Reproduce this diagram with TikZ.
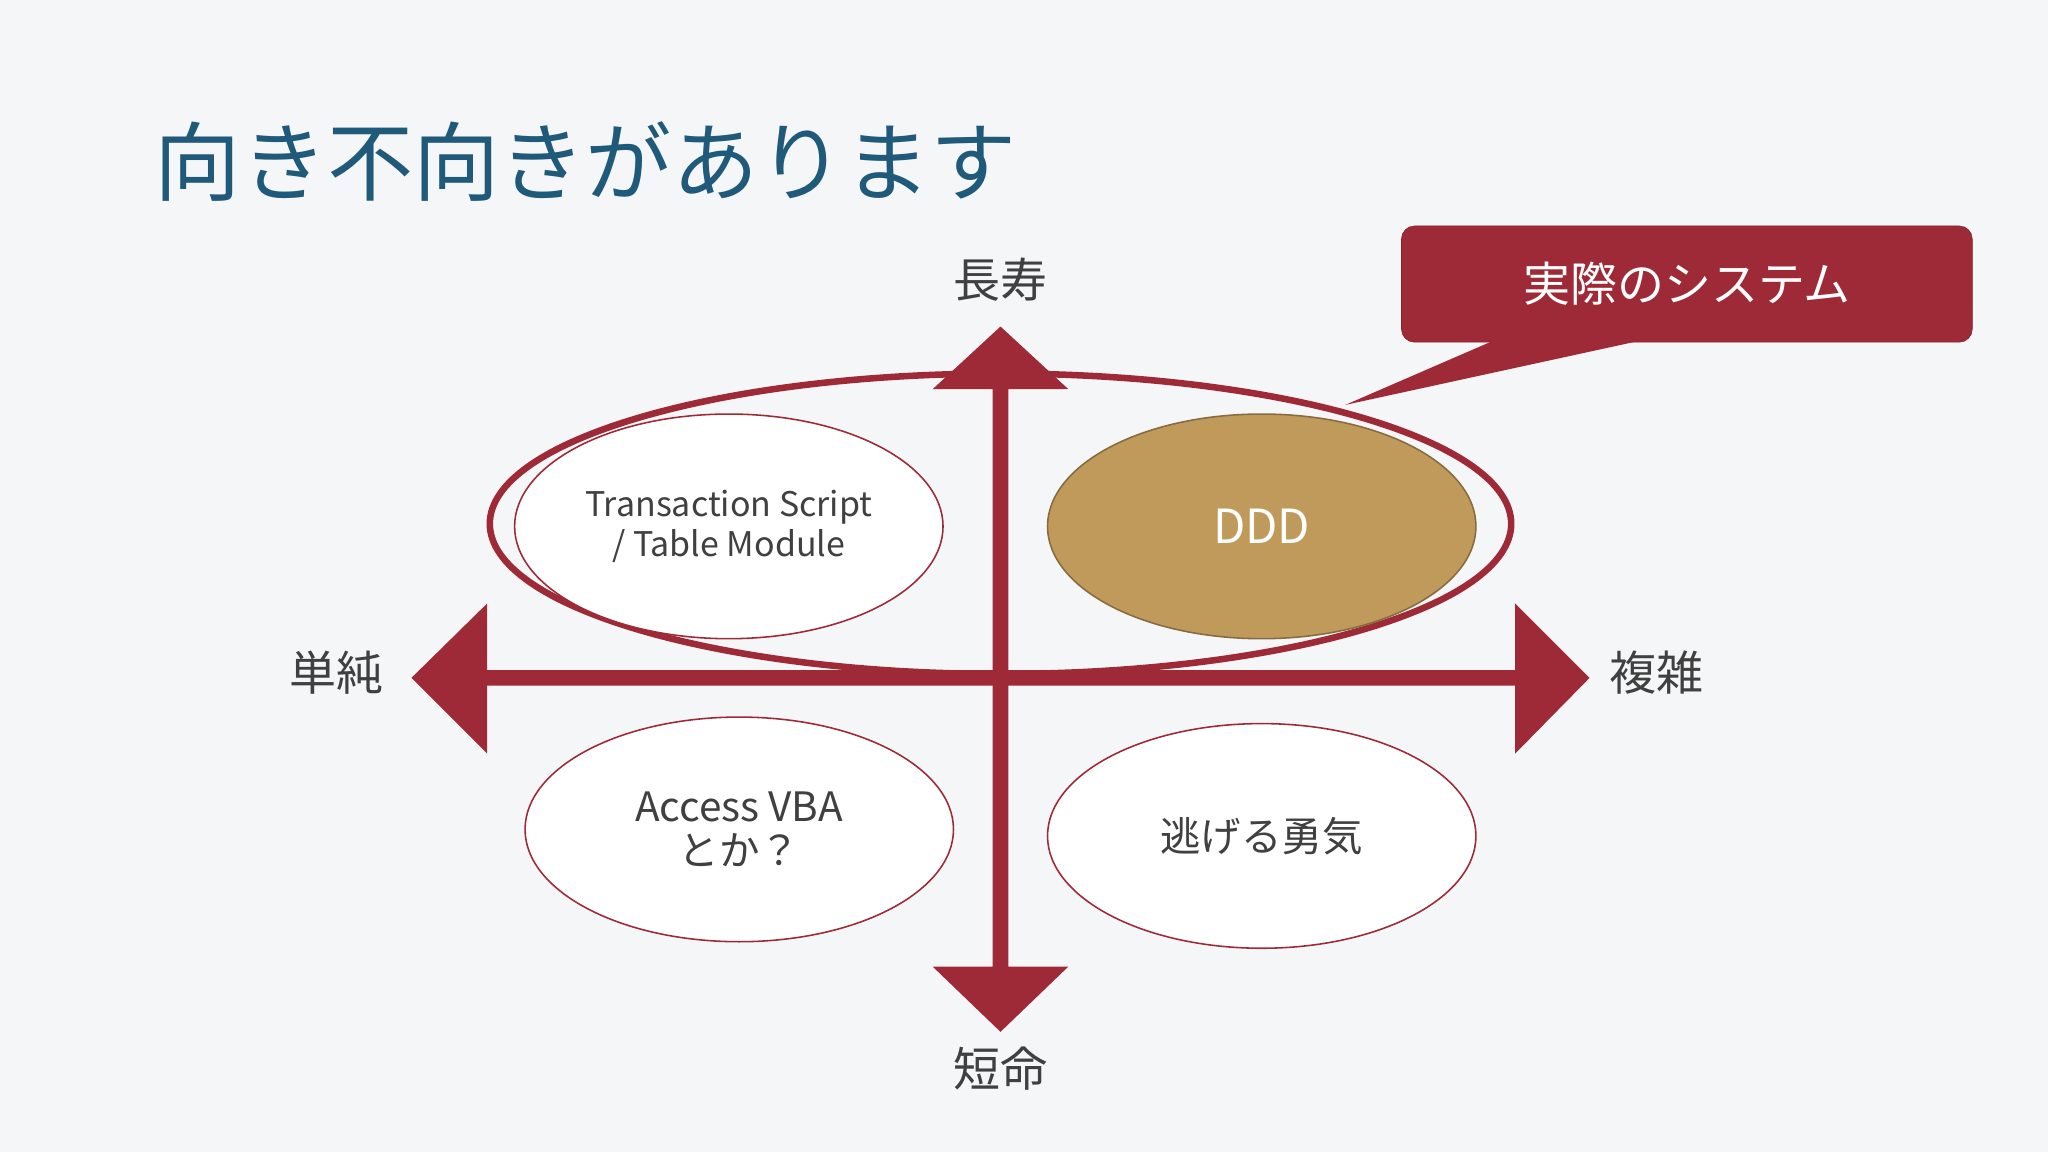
\documentclass[tikz,border=0pt]{standalone}
\usepackage{fontspec}
\setmainfont{Noto Sans CJK JP}
\newfontfamily\cjk{Noto Sans CJK JP}
\usetikzlibrary{shapes.geometric}
\definecolor{dred}{HTML}{9E2A38}
\definecolor{ttl}{HTML}{1F5A7A}
\definecolor{gold}{HTML}{C09A5A}
\definecolor{bg}{HTML}{F5F6F8}
\definecolor{txt}{HTML}{404040}
\tikzset{
 oval/.style={ellipse,draw=dred,line width=1.2pt,fill=white,minimum width=328pt,minimum height=172pt,inner sep=0pt,text=txt,align=center,font=\cjk\fontsize{26}{30}\selectfont},
 axis/.style={text=txt,font=\cjk\fontsize{36}{40}\selectfont},
}
\begin{document}
\begin{tikzpicture}[x=1pt,y=-1pt]
\fill[bg] (0,0) rectangle (1568,882);
\useasboundingbox (0,0) rectangle (1568,882);
\node[text=ttl,font=\cjk\fontsize{66}{70}\selectfont,anchor=west] (title) at (115,124) {向き不向きがあります};
% big ellipse
\draw[dred,line width=5pt] (766,401) ellipse [x radius=391,y radius=115];
% arrows
\fill[dred] (760,298) -- (714,298) -- (766,250) -- (818,298) -- (772,298) -- (772,740) -- (818,740) -- (766,790) -- (714,740) -- (760,740) -- cycle;
\fill[dred] (373,513) -- (373,462) -- (315,519) -- (373,577) -- (373,525) -- (1160,525) -- (1160,577) -- (1217,519) -- (1160,462) -- (1160,513) -- cycle;
\node[axis] (top) at (766,214) {長寿};
\node[axis] (bot) at (766,818) {短命};
\node[axis] (left) at (258,515) {単純};
\node[axis] (right) at (1268,515) {複雑};
\node[oval] (ts) at (558,403) {Transaction Script\\/ Table Module};
\node[oval,fill=gold,draw=gold!70!black,text=white,font=\cjk\fontsize{36}{40}\selectfont] (ddd) at (966,403) {DDD};
\node[oval,font=\cjk\fontsize{31}{34}\selectfont] (acc) at (566,635) {Access VBA\\とか？};
\node[oval,font=\cjk\fontsize{31}{34}\selectfont] (nig) at (966,640) {逃げる勇気};
% callout
\node[draw=dred!80!black,fill=dred,rounded corners=10pt,minimum width=437pt,minimum height=89pt,text=white,font=\cjk\fontsize{36}{40}\selectfont] (call) at (1291.5,217.5) {実際のシステム};
\coordinate (tip) at (1030,310);
\fill[dred] (1143,261) -- (tip) -- (1255,261) -- cycle;
\end{tikzpicture}
\end{document}
